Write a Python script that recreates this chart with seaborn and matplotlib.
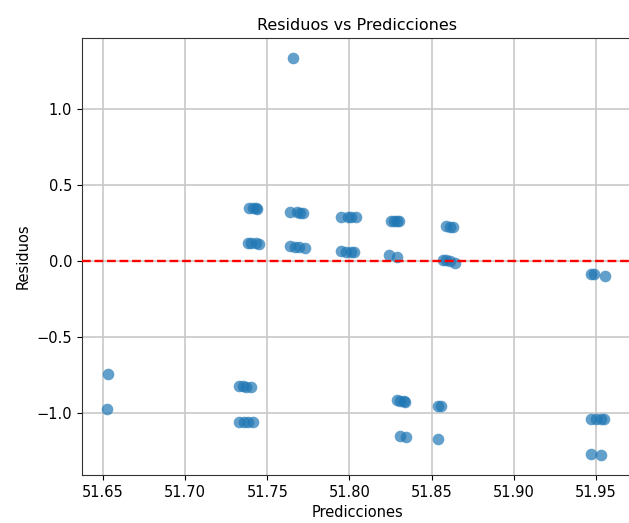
import matplotlib
matplotlib.use("Agg")
import matplotlib.pyplot as plt
import seaborn as sns
import numpy as np
import pandas as pd

# Predicciones (x) y residuos (y)
predicciones = [
    51.6532, 51.6526,
    51.739, 51.741, 51.743, 51.744,
    51.738, 51.740, 51.743, 51.745,
    51.733, 51.735, 51.737, 51.740,
    51.733, 51.736, 51.738, 51.741,
    51.7658,
    51.764, 51.768, 51.770, 51.772,
    51.764, 51.767, 51.769, 51.773,
    51.795, 51.799, 51.801, 51.804,
    51.795, 51.798, 51.801, 51.803,
    51.825, 51.827, 51.829, 51.830,
    51.824, 51.829,
    51.829, 51.831, 51.833, 51.834,
    51.8306, 51.8347,
    51.859, 51.861, 51.863,
    51.857, 51.859, 51.861, 51.8645,
    51.854, 51.856,
    51.854,
    51.947, 51.949, 51.9555,
    51.947, 51.950, 51.953, 51.955,
    51.947, 51.953,
]
residuos = [
    -0.746, -0.974,
    0.350, 0.348, 0.346, 0.345,
    0.120, 0.118, 0.115, 0.112,
    -0.822, -0.824, -0.826, -0.832,
    -1.057, -1.057, -1.057, -1.057,
    1.333,
    0.322, 0.320, 0.318, 0.315,
    0.098, 0.095, 0.093, 0.087,
    0.292, 0.290, 0.289, 0.287,
    0.064, 0.062, 0.060, 0.058,
    0.265, 0.264, 0.263, 0.262,
    0.040, 0.028,
    -0.915, -0.920, -0.922, -0.925,
    -1.151, -1.160,
    0.230, 0.226, 0.222,
    0.007, 0.005, 0.003, -0.011,
    -0.952, -0.952,
    -1.173,
    -0.088, -0.088, -0.097,
    -1.041, -1.041, -1.041, -1.041,
    -1.270, -1.276,
]

df = pd.DataFrame({"Predicciones": predicciones, "Residuos": residuos})

fig = plt.figure(figsize=(6.29, 5.23), dpi=100)
ax = fig.add_axes([0.1304, 0.0918, 0.8744, 0.8356])

sns.scatterplot(data=df, x="Predicciones", y="Residuos", ax=ax,
                s=70, alpha=0.7, color="#1f77b4", linewidth=0, zorder=3)
ax.axhline(0, color="red", linestyle="--", linewidth=1.7, zorder=4)

ax.set_xlim(51.6372, 51.972)
ax.set_ylim(-1.408, 1.467)
ax.set_xticks([51.65, 51.70, 51.75, 51.80, 51.85, 51.90, 51.95])
ax.set_yticks([-1.0, -0.5, 0.0, 0.5, 1.0])
ax.tick_params(labelsize=10.5)
ax.grid(True, color="#c8c8c8", linewidth=1.2, zorder=0)
ax.set_axisbelow(True)
for sp in ax.spines.values():
    sp.set_color("#333333")

ax.set_title("Residuos vs Predicciones", fontsize=11.5)
ax.set_xlabel("Predicciones", fontsize=10.5)
ax.set_ylabel("Residuos", fontsize=10.5)

fig.savefig("out.png", dpi=100)
